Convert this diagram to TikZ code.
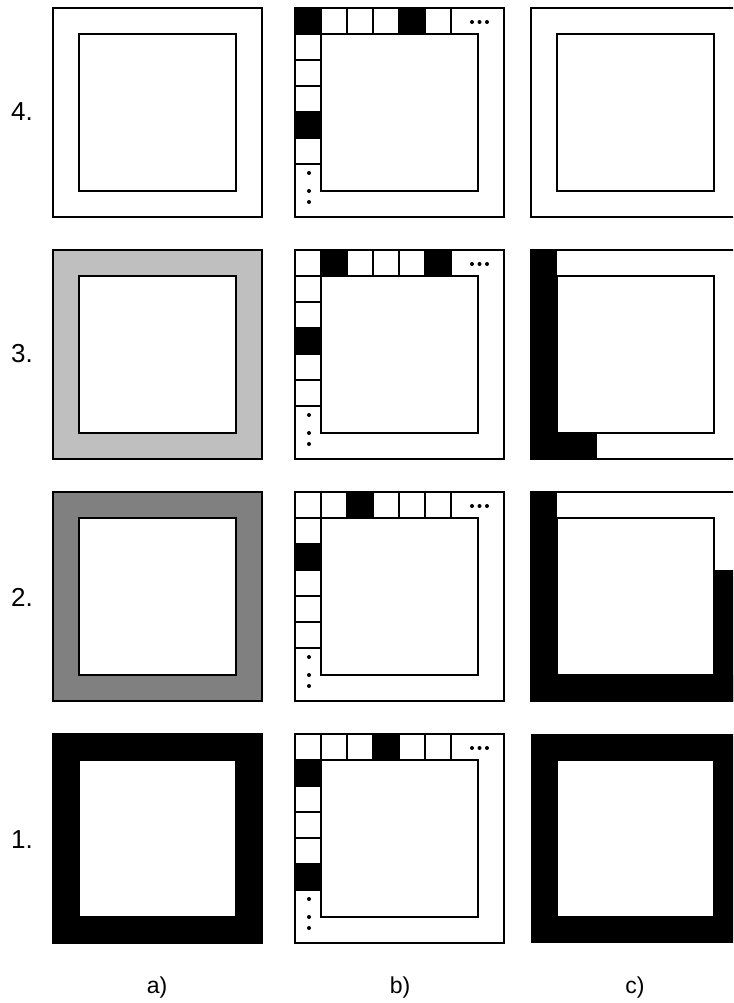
\documentclass[tikz,border=0pt]{standalone}
\usepackage{fontspec}
\setmainfont{Liberation Sans}
\usetikzlibrary{positioning}

\begin{document}
\begin{tikzpicture}[
    x=1pt, y=-1pt,
    every node/.style={inner sep=0pt},
    rowlbl/.style={font=\fontsize{26}{30}\selectfont},
    collbl/.style={font=\fontsize{23}{27}\selectfont, anchor=base},
    frame/.style={draw, line width=2pt},
    cell/.style={draw, line width=2pt, fill=white},
    dot/.style={fill=black}
]
\useasboundingbox (0,0) rectangle (733,1003);
\clip (0,0) rectangle (733,1003);

% Spalte a)
\foreach \y/\shade in {8/white, 250/black!25, 492/black!50, 734/black} {
  \filldraw[frame, fill=\shade] (53,\y) rectangle ++(209,209);
  \filldraw[frame, fill=white] (79,{\y+26}) rectangle ++(157,157);
}

% Spalte b)
\foreach \y/\toplist/\leftlist in {8/{0,4}/{0,4}, 250/{1,5}/{3}, 492/{2}/{2}, 734/{3}/{1,5}} {
  \draw[frame] (295,\y) rectangle ++(209,209);
  \draw[frame] (321,{\y+26}) rectangle ++(157,157);
  \foreach \i in {0,...,5}
    \draw[cell] ({295+26*\i},\y) rectangle ++(26,26);
  \foreach \j in {1,...,5}
    \draw[cell] (295,{\y+26*\j}) rectangle ++(26,26);
  \foreach \i in \toplist
    \fill ({295+26*\i},\y) rectangle ++(26,26);
  \foreach \j in \leftlist
    \fill (295,{\y+26*\j}) rectangle ++(26,26);
  % Punkte
  \foreach \dx in {472,479.5,487}
    \fill[dot] (\dx,{\y+14}) circle (2);
  \foreach \dy in {165,183,194}
    \fill[dot] (309,{\y+\dy}) circle (2);
}

% Spalte c)
\draw[frame] (531,8) rectangle ++(209,209);
\draw[frame] (557,34) rectangle ++(157,157);

\draw[frame] (531,250) rectangle ++(209,209);
\fill (531,250) rectangle (557,459);
\fill (531,433) rectangle (597,459);
\draw[frame] (557,276) rectangle ++(157,157);

\draw[frame] (531,492) rectangle ++(209,209);
\fill (531,492) rectangle (557,701);
\fill (531,675) rectangle (740,701);
\fill (714,570) rectangle (740,701);
\draw[frame] (557,518) rectangle ++(157,157);

\fill (531,734) rectangle ++(209,209);
\filldraw[frame, fill=white] (557,760) rectangle ++(157,157);

% Beschriftungen
\node[rowlbl] (lbl4) at (22,112) {4.};
\node[rowlbl] (lbl3) at (22,354) {3.};
\node[rowlbl] (lbl2) at (22,597) {2.};
\node[rowlbl] (lbl1) at (22,840) {1.};

\node[collbl] (cola) at (157,993) {a)};
\node[collbl] (colb) at (400,993) {b)};
\node[collbl] (colc) at (635,993) {c)};

\end{tikzpicture}
\end{document}
